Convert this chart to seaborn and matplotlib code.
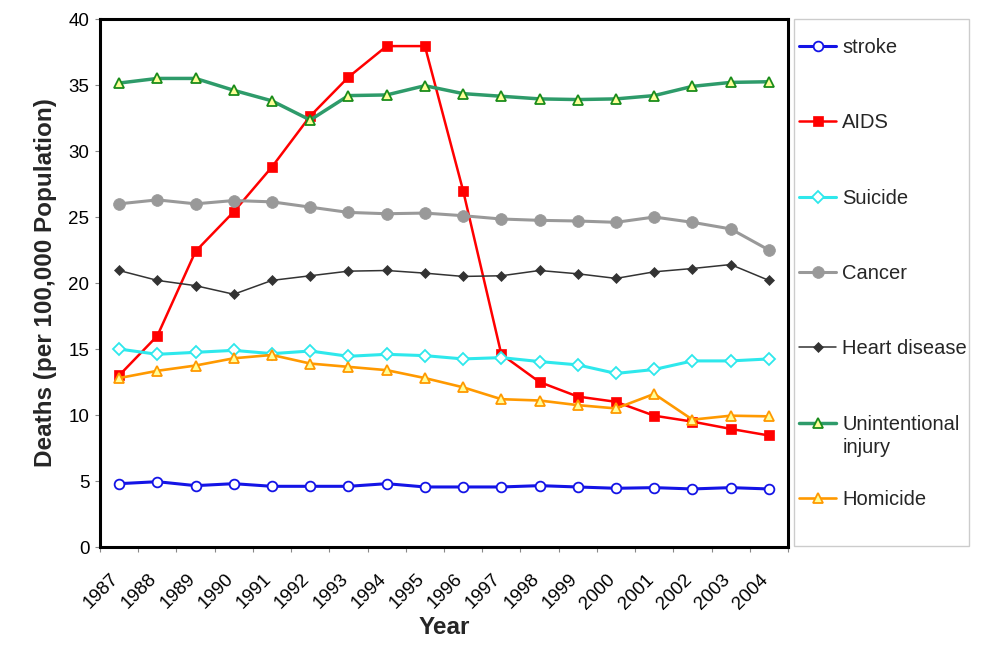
import seaborn as sns
import pandas as pd
import numpy as np
import matplotlib.pyplot as plt
from matplotlib.patches import Rectangle
from matplotlib.transforms import ScaledTranslation

years = list(range(1987, 2005))
stroke = [4.8, 4.95, 4.65, 4.8, 4.6, 4.6, 4.6, 4.8, 4.55, 4.55, 4.55, 4.65, 4.55, 4.45, 4.5, 4.4, 4.5, 4.4]
aids = [13.0, 16.0, 22.4, 25.4, 28.8, 32.65, 35.6, 37.95, 37.95, 27.0, 14.6, 12.5, 11.4, 11.0, 9.95, 9.5, 8.95, 8.45]
suicide = [15.0, 14.6, 14.75, 14.9, 14.65, 14.85, 14.45, 14.6, 14.5, 14.25, 14.35, 14.05, 13.8, 13.15, 13.45, 14.1, 14.1, 14.25]
cancer = [26.0, 26.3, 26.0, 26.25, 26.15, 25.75, 25.35, 25.25, 25.3, 25.1, 24.85, 24.75, 24.7, 24.6, 25.0, 24.6, 24.1, 22.5]
heart = [20.95, 20.2, 19.8, 19.15, 20.2, 20.55, 20.9, 20.95, 20.75, 20.5, 20.55, 20.95, 20.7, 20.35, 20.85, 21.1, 21.4, 20.2]
injury = [35.15, 35.5, 35.5, 34.6, 33.8, 32.35, 34.2, 34.25, 34.95, 34.35, 34.15, 33.95, 33.9, 33.95, 34.2, 34.9, 35.2, 35.25]
homicide = [12.8, 13.35, 13.75, 14.3, 14.55, 13.9, 13.65, 13.4, 12.8, 12.1, 11.2, 11.1, 10.75, 10.5, 11.6, 9.65, 9.95, 9.9]

series = [
    ('stroke', stroke, dict(color='#1414e6', marker='o', markersize=7, markerfacecolor='white',
                            markeredgecolor='#1414e6', markeredgewidth=1.3, linewidth=2.2)),
    ('AIDS', aids, dict(color='#ff0000', marker='s', markersize=6.5, markerfacecolor='#ff0000',
                        markeredgecolor='#ff0000', markeredgewidth=0.5, linewidth=1.8)),
    ('Suicide', suicide, dict(color='#2ee8ec', marker='D', markersize=5.8, markerfacecolor='white',
                              markeredgecolor='#2ee8ec', markeredgewidth=1.3, linewidth=2.2)),
    ('Cancer', cancer, dict(color='#999999', marker='o', markersize=8.5, markerfacecolor='#999999',
                            markeredgecolor='#999999', markeredgewidth=0.5, linewidth=2.2)),
    ('Heart disease', heart, dict(color='#333333', marker='D', markersize=5, markerfacecolor='#333333',
                                  markeredgecolor='#333333', markeredgewidth=0.5, linewidth=1.1)),
    ('Unintentional', injury, dict(color='#2e9b6a', marker='^', markersize=7, markerfacecolor='#ffff99',
                                   markeredgecolor='#1a8c1a', markeredgewidth=1.3, linewidth=2.5)),
    ('Homicide', homicide, dict(color='#ff9900', marker='^', markersize=7.5, markerfacecolor='#ffff99',
                                markeredgecolor='#ff9900', markeredgewidth=1.3, linewidth=1.9)),
]

sns.set_style('white')
plt.rcParams['font.family'] = ['Liberation Sans', 'DejaVu Sans']

fig = plt.figure(figsize=(10, 6.52), dpi=100)
ax = fig.add_axes([0.100, 0.1610, 0.688, 0.8098])

# points sit in the middle of each year's category
xpos = np.array(years) + 0.5
for name, vals, style in series:
    sns.lineplot(x=xpos, y=vals, ax=ax, label=name, **style)

if ax.get_legend() is not None:
    ax.get_legend().remove()

ax.set_xlim(1987, 2005)
ax.set_ylim(0, 40)
ax.set_yticks(range(0, 41, 5))
ax.set_xticks(list(years) + [2005])
ax.set_xticklabels([str(y) for y in years] + [''], rotation=45, ha='right', va='top',
                   rotation_mode='anchor')
ax.tick_params(axis='both', direction='out', length=3.6, width=0.8, color='#888888',
               labelsize=13.5, labelcolor='black')
ax.tick_params(axis='y', pad=4)
ax.tick_params(axis='x', pad=13.5)
ax.tick_params(left=True, bottom=True, right=False, top=False)
for lbl in ax.get_xticklabels():
    lbl.set_transform(lbl.get_transform() + ScaledTranslation(0.10, 0, fig.dpi_scale_trans))

for sp in ax.spines.values():
    sp.set_visible(True)
    sp.set_color('black')
    sp.set_linewidth(2.2)

ax.set_ylabel('Deaths (per 100,000 Population)', fontsize=17.5, fontweight='bold')
ax.yaxis.set_label_coords(-0.063, 0.5)
ax.set_xlabel('Year', fontsize=17.5, fontweight='bold')
ax.xaxis.set_label_coords(0.5, -0.1515)
ax.xaxis.label.set_va('center')

handles, labels = ax.get_legend_handles_labels()
leg = fig.legend(handles, labels, loc='upper left', bbox_to_anchor=(0.799, 0.942),
                 frameon=False, fontsize=14.5, handlelength=1.85, handletextpad=0.3,
                 labelspacing=2.8, borderpad=0, borderaxespad=0)
fig.add_artist(Rectangle((0.794, (652 - 546) / 652), 0.175, 527 / 652, transform=fig.transFigure,
                         fill=False, edgecolor='#cccccc', linewidth=1))

fig.canvas.draw()
ax.annotate('injury', xy=(0, 0), xycoords=leg.get_texts()[5], xytext=(0, -3),
            textcoords='offset points', ha='left', va='top', fontsize=14.5)

fig.savefig('out.png', dpi=100)
